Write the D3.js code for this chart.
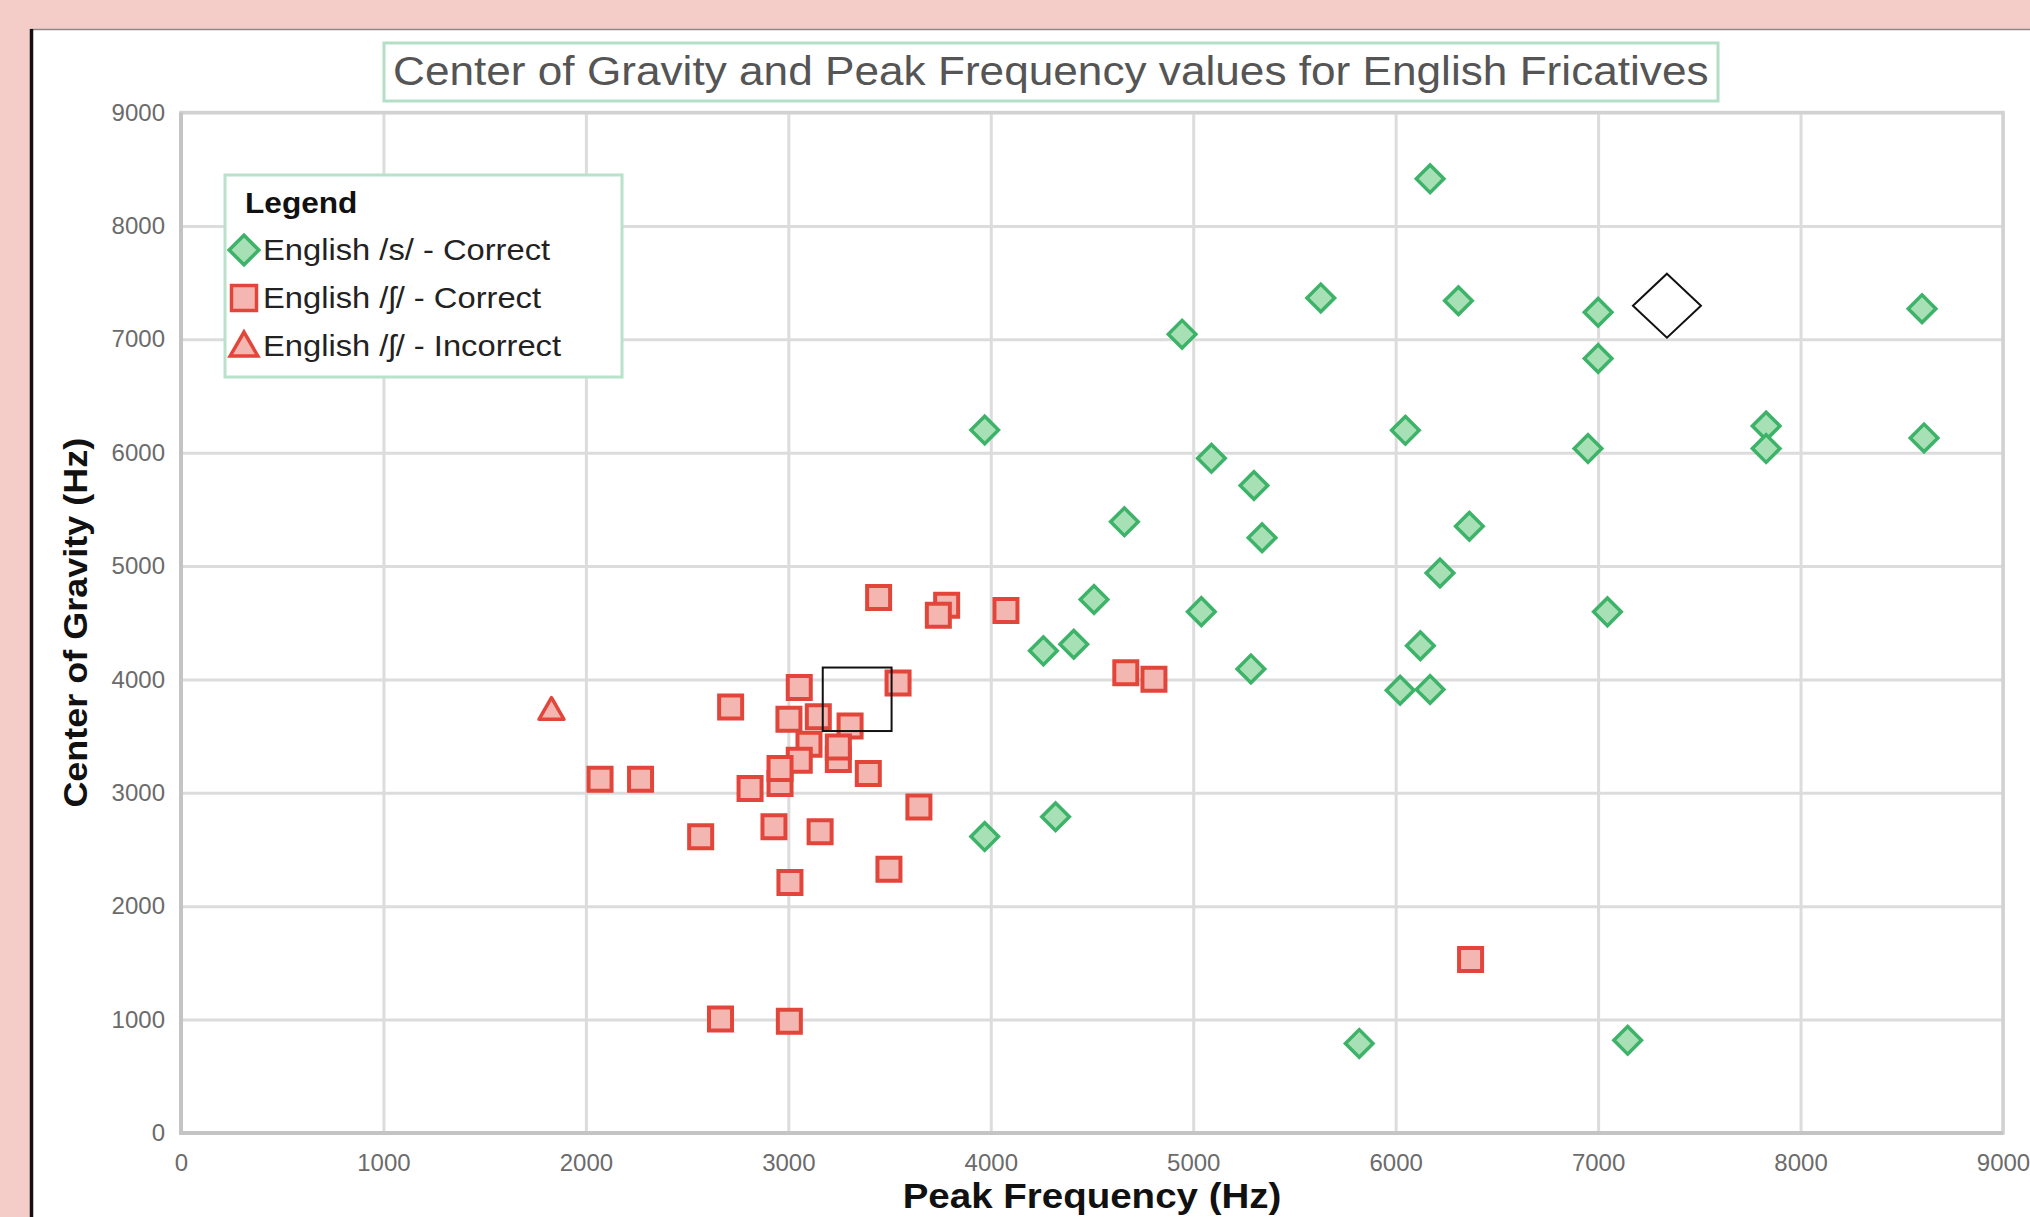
<!DOCTYPE html>
<html lang="en">
<head>
    <meta charset="UTF-8">
    <title>Center of Gravity and Peak Frequency</title>
</head>

<style>
    body {
        margin: 0;
        background: #f5cdc8;
        overflow: hidden;
    }
    svg text {
        font-family: "Liberation Sans", Arial, sans-serif;
    }
    .tick text {
        fill: #6b6b6b;
        font-size: 24px;
    }
</style>
<body>
<script type='text/javascript' src='https://d3js.org/d3.v7.min.js'></script>
<script>
    // values (Hz)
    const sPeak = [6170, 5630, 6310, 7000, 8600, 4945, 7000, 3970, 6048, 7830, 7830, 6950, 8610, 5090, 5300, 4660,
        5340, 6364, 6219, 4510, 5040, 7046, 4260, 4410, 6122, 5285, 6022, 6170, 3970, 4320, 5820, 7146];
    const sCog = [8415, 7365, 7340, 7238, 7270, 7045, 6830, 6200, 6197, 6235, 6036, 6036, 6130, 5950, 5710, 5390,
        5250, 5351, 4939, 4705, 4598, 4596, 4252, 4310, 4297, 4093, 3905, 3911, 2614, 2789, 790, 817];

    const shPeak = [3446, 3782, 3741, 4075, 4667, 4806, 3542, 3054, 2715, 3003, 3148, 3305, 3102, 3247, 3247, 3054,
        2959, 2959, 3395, 2811, 2070, 2270, 3645, 2929, 3157, 2567, 3497, 3008, 6370, 2665, 3005];
    const shCog = [4722, 4654, 4566, 4607, 4060, 4001, 3968, 3929, 3758, 3650, 3670, 3590, 3429, 3294, 3405, 3288,
        3083, 3215, 3171, 3039, 3120, 3120, 2874, 2700, 2656, 2612, 2325, 2210, 1530, 1005, 985];

    const shIncPeak = [1830];
    const shIncCog = [3730];

    // black selection marks that sit on the screenshot
    const selBoxPeak = [3170, 3510];
    const selBoxCog = [3545, 4105];
    const selDiamondPeak = [7340];
    const selDiamondCog = [7296];

    const xTicks = [0, 1000, 2000, 3000, 4000, 5000, 6000, 7000, 8000, 9000];
    const yTicks = [0, 1000, 2000, 3000, 4000, 5000, 6000, 7000, 8000, 9000];

    const seriesNames = ["English /s/ - Correct", "English /\u0283/ - Correct", "English /\u0283/ - Incorrect"];
    const chartTitle = "Center of Gravity and Peak Frequency values for English Fricatives";
    const xTitle = "Peak Frequency (Hz)";
    const yTitle = "Center of Gravity (Hz)";

    const W = 2030, H = 1217;
    const plotL = 181, plotR = 2003, plotT = 112.5, plotB = 1133;

    const green = {stroke: "#3cb368", fill: "#a8e0b6"};
    const red = {stroke: "#e2453a", fill: "#f4b6b0"};

    // text in the screenshot is a bit wider than plain Arial
    function stretch(sel, k) {
        sel.each(function () {
            const w = this.getComputedTextLength();
            d3.select(this).attr("textLength", w * k).attr("lengthAdjust", "spacingAndGlyphs");
        });
    }

    const svg = d3.select("body").append("svg")
        .attr("width", W)
        .attr("height", H);

    // white panel with dark left edge
    svg.append("rect")
        .attr("x", 30).attr("y", 29)
        .attr("width", W - 30).attr("height", H - 29)
        .attr("fill", "#fff");
    svg.append("line")
        .attr("x1", 30).attr("x2", W).attr("y1", 29.5).attr("y2", 29.5)
        .attr("stroke", "#8a8a8a").attr("stroke-width", 1.5);
    svg.append("line")
        .attr("x1", 31.5).attr("x2", 31.5).attr("y1", 29).attr("y2", H)
        .attr("stroke", "#111").attr("stroke-width", 3.5);

    const x = d3.scaleLinear().domain([0, 9000]).range([plotL, plotR]);
    const y = d3.scaleLinear().domain([0, 9000]).range([plotB, plotT]);

    // grid
    svg.append("g")
        .attr("transform", `translate(0,${plotB})`)
        .call(d3.axisBottom(x).tickValues(xTicks).tickSize(-(plotB - plotT)).tickFormat(""))
        .call(g => g.select(".domain").remove())
        .selectAll("line").attr("stroke", "#dcdcdc").attr("stroke-width", 3);
    svg.append("g")
        .attr("transform", `translate(${plotL},0)`)
        .call(d3.axisLeft(y).tickValues(yTicks).tickSize(-(plotR - plotL)).tickFormat(""))
        .call(g => g.select(".domain").remove())
        .selectAll("line").attr("stroke", "#dcdcdc").attr("stroke-width", 3);

    // frame
    svg.append("rect")
        .attr("x", x(0)).attr("y", y(9000))
        .attr("width", x(9000) - x(0)).attr("height", y(0) - y(9000))
        .attr("fill", "none").attr("stroke", "#d2d2d2").attr("stroke-width", 3.5);
    svg.append("path")
        .attr("d", `M${x(0)},${y(9000)}V${y(0)}H${x(9000)}`)
        .attr("fill", "none").attr("stroke", "#c4c4c4").attr("stroke-width", 4);

    // tick labels
    svg.append("g")
        .attr("transform", `translate(${plotL},0)`)
        .call(d3.axisLeft(y).tickValues(yTicks).tickSize(0).tickPadding(16).tickFormat(d3.format("d")))
        .call(g => g.select(".domain").remove());
    svg.append("g")
        .attr("transform", `translate(0,${plotB})`)
        .call(d3.axisBottom(x).tickValues(xTicks).tickSize(0).tickPadding(21).tickFormat(d3.format("d")))
        .call(g => g.select(".domain").remove());

    // axis titles
    svg.append("text")
        .attr("x", (plotL + plotR) / 2).attr("y", 1208)
        .attr("text-anchor", "middle")
        .attr("font-weight", "bold").attr("font-size", 35).attr("fill", "#111")
        .text(xTitle)
        .call(stretch, 1.1);
    svg.append("text")
        .attr("transform", `translate(87,${(plotT + plotB) / 2}) rotate(-90)`)
        .attr("text-anchor", "middle")
        .attr("font-weight", "bold").attr("font-size", 33).attr("fill", "#111")
        .text(yTitle)
        .call(stretch, 1.09);

    // title box
    svg.append("rect")
        .attr("x", 384).attr("y", 43).attr("width", 1334).attr("height", 58)
        .attr("fill", "#fff").attr("stroke", "#b4dfc7").attr("stroke-width", 3);
    svg.append("text")
        .attr("x", 393).attr("y", 85)
        .attr("font-size", 40).attr("fill", "#555")
        .text(chartTitle)
        .call(stretch, 1.104);

    // data marks
    const diamond = d3.symbol(d3.symbolSquare, 19.5 * 19.5);
    const square = d3.symbol(d3.symbolSquare, 23 * 23);
    const triangle = d3.symbol(d3.symbolTriangle, 270);

    const sData = d3.zip(sPeak, sCog);
    const shData = d3.zip(shPeak, shCog);
    const incData = d3.zip(shIncPeak, shIncCog);

    svg.append("g").selectAll("path")
        .data(shData)
        .join("path")
        .attr("d", square)
        .attr("transform", d => `translate(${x(d[0])},${y(d[1])})`)
        .attr("fill", red.fill).attr("stroke", red.stroke).attr("stroke-width", 4);

    svg.append("g").selectAll("path")
        .data(incData)
        .join("path")
        .attr("d", triangle)
        .attr("transform", d => `translate(${x(d[0])},${y(d[1]) + 2})`)
        .attr("fill", red.fill).attr("stroke", red.stroke).attr("stroke-width", 3.5)
        .attr("stroke-linejoin", "round");

    svg.append("g").selectAll("path")
        .data(sData)
        .join("path")
        .attr("d", diamond)
        .attr("transform", d => `translate(${x(d[0])},${y(d[1])}) rotate(45)`)
        .attr("fill", green.fill).attr("stroke", green.stroke).attr("stroke-width", 3.5);

    // selection marks
    svg.append("rect")
        .attr("x", x(selBoxPeak[0])).attr("y", y(selBoxCog[1]))
        .attr("width", x(selBoxPeak[1]) - x(selBoxPeak[0]))
        .attr("height", y(selBoxCog[0]) - y(selBoxCog[1]))
        .attr("fill", "none").attr("stroke", "#111").attr("stroke-width", 2);
    svg.append("g").selectAll("path")
        .data(d3.zip(selDiamondPeak, selDiamondCog))
        .join("path")
        .attr("d", d => {
            const cx = x(d[0]), cy = y(d[1]);
            return `M${cx},${cy - 32}L${cx + 34},${cy}L${cx},${cy + 32}L${cx - 34},${cy}Z`;
        })
        .attr("fill", "#fff").attr("stroke", "#111").attr("stroke-width", 2);

    // legend
    const legend = svg.append("g");
    legend.append("rect")
        .attr("x", 225).attr("y", 175).attr("width", 397).attr("height", 202)
        .attr("fill", "#fff").attr("stroke", "#b8e2ca").attr("stroke-width", 3);
    legend.append("text")
        .attr("x", 245).attr("y", 213)
        .attr("font-weight", "bold").attr("font-size", 29).attr("fill", "#111")
        .text("Legend")
        .call(stretch, 1.09);

    const legendStyles = [
        {sym: d3.symbol(d3.symbolSquare, 21 * 21), rot: 45, c: green},
        {sym: d3.symbol(d3.symbolSquare, 25 * 25), rot: 0, c: red},
        {sym: d3.symbol(d3.symbolTriangle, 330), rot: 0, c: red}
    ];
    const rowY = [250, 298, 346];
    const items = legend.selectAll("g.item")
        .data(seriesNames)
        .join("g")
        .attr("class", "item")
        .attr("transform", (d, i) => `translate(0,${rowY[i]})`);
    items.append("path")
        .attr("d", (d, i) => legendStyles[i].sym())
        .attr("transform", (d, i) => `translate(244,${i === 2 ? 2 : 0}) rotate(${legendStyles[i].rot})`)
        .attr("fill", (d, i) => legendStyles[i].c.fill)
        .attr("stroke", (d, i) => legendStyles[i].c.stroke)
        .attr("stroke-width", 3.5);
    items.append("text")
        .attr("x", 263).attr("y", 10)
        .attr("font-size", 30).attr("fill", "#222")
        .text(d => d)
        .call(stretch, 1.09);
</script>
</body>
</html>
